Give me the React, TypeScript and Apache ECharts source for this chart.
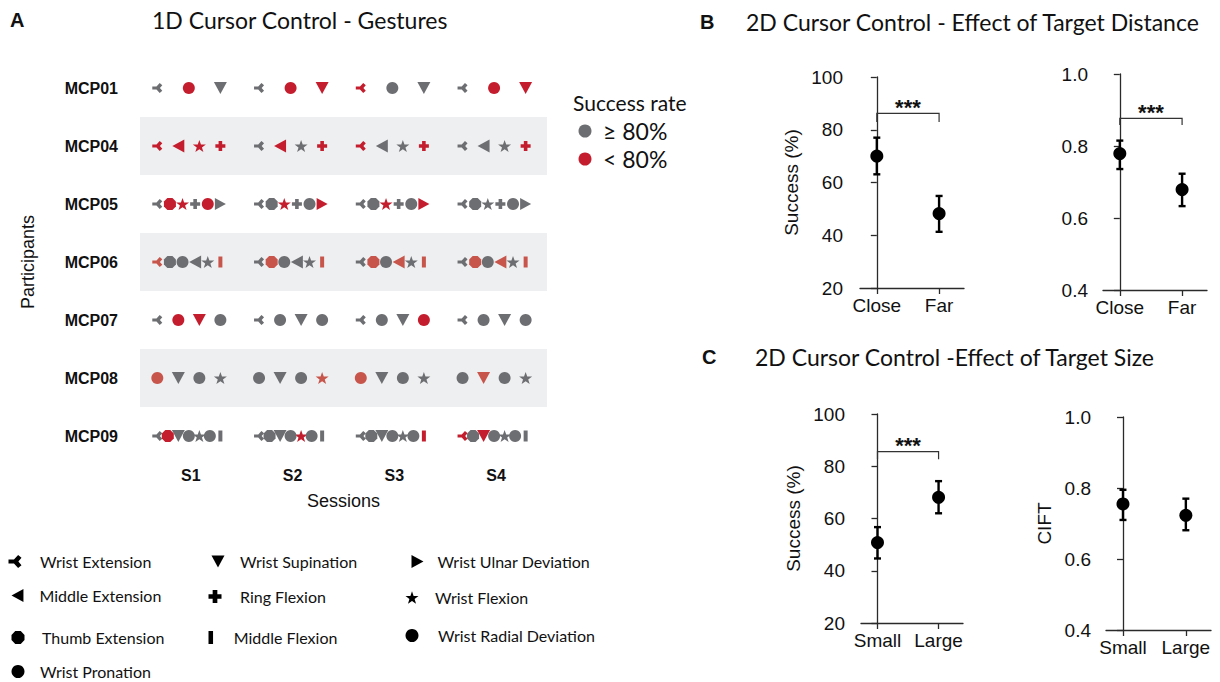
import React, { useEffect, useRef } from 'react';
import * as echarts from 'echarts';

// ---------------- DATA ----------------
const participants = ['MCP01', 'MCP04', 'MCP05', 'MCP06', 'MCP07', 'MCP08', 'MCP09'];
const sessions = ['S1', 'S2', 'S3', 'S4'];

const gestures = [
  'Wrist Extension', 'Wrist Supination', 'Wrist Ulnar Deviation',
  'Middle Extension', 'Ring Flexion', 'Wrist Flexion',
  'Thumb Extension', 'Middle Flexion', 'Wrist Radial Deviation',
  'Wrist Pronation',
];

const participantGestures = [
  ['Wrist Extension', 'Wrist Pronation', 'Wrist Supination'],
  ['Wrist Extension', 'Middle Extension', 'Wrist Flexion', 'Ring Flexion'],
  ['Wrist Extension', 'Thumb Extension', 'Wrist Flexion', 'Ring Flexion', 'Wrist Radial Deviation', 'Wrist Ulnar Deviation'],
  ['Wrist Extension', 'Thumb Extension', 'Wrist Pronation', 'Middle Extension', 'Wrist Flexion', 'Middle Flexion'],
  ['Wrist Extension', 'Wrist Pronation', 'Wrist Supination', 'Wrist Radial Deviation'],
  ['Wrist Pronation', 'Wrist Supination', 'Wrist Radial Deviation', 'Wrist Flexion'],
  ['Wrist Extension', 'Thumb Extension', 'Wrist Supination', 'Wrist Pronation', 'Wrist Flexion', 'Wrist Radial Deviation', 'Middle Flexion'],
];

// per participant, per session: one char per gesture. g = >= 80 %, r = < 80 %, p = < 80 % (paler print)
const successBySession = [
  ['grg', 'grr', 'rgg', 'grr'],
  ['rrrr', 'grgr', 'rggr', 'gggr'],
  ['grrgrg', 'ggrggr', 'ggrggr', 'gggggg'],
  ['pggggp', 'gpgggp', 'gpgpgp', 'gpgpgp'],
  ['grrg', 'gggg', 'gggr', 'gggg'],
  ['pggg', 'gggp', 'pggg', 'gpgg'],
  ['grggggg', 'ggggrgg', 'ggggggr', 'rgrgggg'],
];

const distanceCategories = ['Close', 'Far'];
const distanceSuccessMean = [70.0, 48.2];
const distanceSuccessLow = [63.1, 41.3];
const distanceSuccessHigh = [77.0, 54.9];
const distanceCiftMean = [0.779, 0.679];
const distanceCiftLow = [0.736, 0.633];
const distanceCiftHigh = [0.815, 0.723];

const sizeCategories = ['Small', 'Large'];
const sizeSuccessMean = [50.8, 68.1];
const sizeSuccessLow = [44.7, 62.0];
const sizeSuccessHigh = [56.7, 74.3];
const sizeCiftMean = [0.755, 0.723];
const sizeCiftLow = [0.71, 0.681];
const sizeCiftHigh = [0.795, 0.77];

// significance brackets: [bracket top, bracket foot]
const distanceSuccessBracket = [86.2, 82.9];
const distanceCiftBracket = [0.877, 0.858];
const sizeSuccessBracket = [85.6, 82.7];

// ---------------- STYLE ----------------
const GREY = '#6d6e71';
const RED = '#c41e2e';
const PALE = '#c8554b';
const statusColor: Record<string, string> = { g: GREY, r: RED, p: PALE };

function starPath() {
  let d = '';
  for (let k = 0; k < 10; k++) {
    const r = k % 2 === 0 ? 10 : 4;
    const a = -Math.PI / 2 + (k * Math.PI) / 5;
    d += (k === 0 ? 'M' : 'L') + (10 + r * Math.cos(a)).toFixed(2) + ',' + (10 + r * Math.sin(a)).toFixed(2) + ' ';
  }
  return 'path://' + d + 'Z';
}

const SYM: Record<string, any> = {
  'Wrist Extension': { symbol: 'path://M0,3.4 L4.2,3.4 L7.4,0 L10,2.2 L7.6,5 L10,7.8 L7.4,10 L4.2,6.6 L0,6.6 Z', size: [10, 10] },
  'Wrist Supination': { symbol: 'path://M0,0 L10,0 L5,9.2 Z', size: [13, 12] },
  'Wrist Ulnar Deviation': { symbol: 'path://M0,0 L9.2,5 L0,10 Z', size: [11, 12] },
  'Middle Extension': { symbol: 'path://M9.2,0 L0,5 L9.2,10 Z', size: [12, 13] },
  'Ring Flexion': { symbol: 'path://M3.2,0 H6.8 V3.2 H10 V6.8 H6.8 V10 H3.2 V6.8 H0 V3.2 H3.2 Z', size: [10, 10] },
  'Wrist Flexion': { symbol: starPath(), size: [13, 12] },
  'Thumb Extension': { symbol: 'path://M2.9,0 L7.1,0 L10,3 L10,7 L7.1,10 L2.9,10 L0,7 L0,3 Z', size: [12, 12] },
  'Middle Flexion': { symbol: 'path://M0,0 H3.5 V10 H0 Z', size: [4, 11] },
  'Wrist Radial Deviation': { symbol: 'circle', size: [12, 12] },
  'Wrist Pronation': { symbol: 'circle', size: [12, 12] },
};

// legend slot layout: [gesture, icon centre x, centre y, text start x]
const legendSlots: [string, number, number, number][] = [
  ['Wrist Extension', 15, 560, 40], ['Wrist Supination', 218, 560, 240], ['Wrist Ulnar Deviation', 418, 560, 438],
  ['Middle Extension', 18, 594, 40], ['Ring Flexion', 215, 595, 240], ['Wrist Flexion', 412, 596, 435],
  ['Thumb Extension', 18, 636, 42], ['Middle Flexion', 215, 636, 238], ['Wrist Radial Deviation', 412, 634, 438],
  ['Wrist Pronation', 18, 670, 40],
];

const SPAN = 0.62;
const SHIFT = -0.02;

const AXIS_COLOR = '#2a2a2a';
const SANS = 'Liberation Sans, Arial, sans-serif';
const HUM = 'Lato, "Open Sans", sans-serif';

function buildOption() {
  // ---------- Panel A ----------
  const gestureSeries = gestures.map((g) => {
    const data: any[] = [];
    participantGestures.forEach((set, p) => {
      const i = set.indexOf(g);
      if (i < 0) return;
      const n = set.length;
      sessions.forEach((_, s) => {
        const st = successBySession[p][s][i];
        const x = s + 0.5 + (i / (n - 1) - 0.5) * SPAN + SHIFT;
        data.push({ value: [x, p], itemStyle: { color: statusColor[st], opacity: 1 } });
      });
    });
    const sym = SYM[g];
    return {
      type: 'scatter',
      name: g,
      xAxisIndex: 1,
      yAxisIndex: 0,
      symbol: sym.symbol,
      symbolSize: sym.size,
      itemStyle: { color: '#000', opacity: 1 },
      emphasis: { disabled: true },
      data,
      z: 3,
    };
  });

  const legends = legendSlots.map(([name, cx, cy, tx]) => {
    const iw = 13;
    const left = cx - iw / 2;
    return {
      data: [name],
      left,
      top: cy - iw / 2,
      padding: 0,
      itemWidth: iw,
      itemHeight: iw,
      itemGap: 0,
      selectedMode: false,
      itemStyle: { color: '#000', opacity: 1 },
      textStyle: {
        fontFamily: HUM,
        fontSize: 16,
        color: '#111',
        padding: [0, 0, 0, Math.max(0, tx - (left + iw + 5))],
      },
    };
  });

  // ---------- Panels B / C ----------
  const panels = [
    { cats: distanceCategories, mean: distanceSuccessMean, low: distanceSuccessLow, high: distanceSuccessHigh, bracket: distanceSuccessBracket, min: 20, max: 100, interval: 20, dec: 0, name: 'Success (%)', grid: { left: 860, top: 77, width: 104, height: 211 }, offset: 7 },
    { cats: distanceCategories, mean: distanceCiftMean, low: distanceCiftLow, high: distanceCiftHigh, bracket: distanceCiftBracket, min: 0.4, max: 1.0, interval: 0.2, dec: 1, name: '', grid: { left: 1103, top: 74, width: 104, height: 216 }, offset: 5 },
    { cats: sizeCategories, mean: sizeSuccessMean, low: sizeSuccessLow, high: sizeSuccessHigh, bracket: sizeSuccessBracket, min: 20, max: 100, interval: 20, dec: 0, name: 'Success (%)', grid: { left: 861, top: 414, width: 102, height: 209 }, offset: 6 },
    { cats: sizeCategories, mean: sizeCiftMean, low: sizeCiftLow, high: sizeCiftHigh, bracket: null, min: 0.4, max: 1.0, interval: 0.2, dec: 1, name: 'CIFT', grid: { left: 1106, top: 417, width: 105, height: 213 }, offset: 5 },
  ];

  const grids: any[] = [{ left: 140, top: 59, width: 407, height: 406 }];
  const xAxes: any[] = [
    {
      type: 'category', gridIndex: 0, data: sessions,
      axisLine: { show: false }, axisTick: { show: false },
      axisLabel: { fontFamily: SANS, fontWeight: 'bold', fontSize: 16, color: '#111', margin: 2 },
      name: 'Sessions', nameLocation: 'middle', nameGap: 27,
      nameTextStyle: { fontFamily: SANS, fontSize: 18, color: '#111' },
    },
    { type: 'value', gridIndex: 0, min: 0, max: 4, show: false },
  ];
  const yAxes: any[] = [
    {
      type: 'category', gridIndex: 0, data: participants, inverse: true,
      axisLine: { show: false }, axisTick: { show: false },
      axisLabel: { fontFamily: SANS, fontWeight: 'bold', fontSize: 16, color: '#111', margin: 22 },
      splitLine: { show: false },
      splitArea: { show: true, areaStyle: { color: ['rgba(255,255,255,0)', '#eeeff1'] } },
      name: 'Participants', nameLocation: 'middle', nameGap: 103, nameRotate: 90,
      nameTextStyle: { fontFamily: SANS, fontSize: 18, color: '#111' },
    },
  ];
  const series: any[] = [...gestureSeries];

  panels.forEach((pn, k) => {
    const gi = k + 1;
    const xi = xAxes.length;
    const yi = yAxes.length;
    grids.push(pn.grid);
    xAxes.push({
      type: 'value', gridIndex: gi, min: -0.27, max: 1.4,
      axisLine: { show: true, lineStyle: { color: AXIS_COLOR, width: 1.3 } },
      axisTick: { show: true, customValues: [0, 1], length: 6, lineStyle: { color: AXIS_COLOR, width: 1.3 } },
      axisLabel: { customValues: [0, 1], formatter: (v: number) => pn.cats[Math.round(v)] ?? '', fontFamily: SANS, fontSize: 19, color: '#111', margin: 8 },
      splitLine: { show: false },
    });
    yAxes.push({
      type: 'value', gridIndex: gi, min: pn.min, max: pn.max, interval: pn.interval, offset: pn.offset,
      axisLine: { show: true, lineStyle: { color: AXIS_COLOR, width: 1.3 } },
      axisTick: { show: true, length: 6, lineStyle: { color: AXIS_COLOR, width: 1.3 } },
      axisLabel: { formatter: (v: number) => v.toFixed(pn.dec), fontFamily: SANS, fontSize: 19, color: '#111', margin: 10 },
      splitLine: { show: false },
      name: pn.name, nameLocation: 'middle', nameGap: pn.name === 'CIFT' ? 47 : 52, nameRotate: 90,
      nameTextStyle: { fontFamily: SANS, fontSize: 19, color: '#111' },
    });
    series.push({
      type: 'custom', xAxisIndex: xi, yAxisIndex: yi,
      data: pn.cats.map((_, i) => [i, pn.low[i], pn.high[i]]),
      renderItem: (params: any, api: any) => {
        const x = api.value(0);
        const lo = api.coord([x, api.value(1)]);
        const hi = api.coord([x, api.value(2)]);
        const c = 3.5;
        const st = { stroke: '#000', lineWidth: 2.4 };
        return {
          type: 'group',
          children: [
            { type: 'line', shape: { x1: lo[0], y1: lo[1], x2: hi[0], y2: hi[1] }, style: st },
            { type: 'line', shape: { x1: lo[0] - c, y1: lo[1], x2: lo[0] + c, y2: lo[1] }, style: st },
            { type: 'line', shape: { x1: hi[0] - c, y1: hi[1], x2: hi[0] + c, y2: hi[1] }, style: st },
          ],
        };
      },
      z: 2,
    });
    series.push({
      type: 'scatter', xAxisIndex: xi, yAxisIndex: yi,
      data: pn.cats.map((_, i) => [i, pn.mean[i]]),
      symbol: 'circle', symbolSize: 13,
      itemStyle: { color: '#000', opacity: 1 },
      emphasis: { disabled: true },
      z: 3,
    });
    if (pn.bracket) {
      series.push({
        type: 'custom', xAxisIndex: xi, yAxisIndex: yi,
        data: [[0, 1, pn.bracket[0], pn.bracket[1]]],
        renderItem: (params: any, api: any) => {
          const a = api.coord([api.value(0), api.value(3)]);
          const b = api.coord([api.value(0), api.value(2)]);
          const c2 = api.coord([api.value(1), api.value(2)]);
          const d = api.coord([api.value(1), api.value(3)]);
          return {
            type: 'group',
            children: [
              { type: 'polyline', shape: { points: [a, b, c2, d] }, style: { stroke: '#333', lineWidth: 1.2, fill: 'none' } },
              { type: 'text', x: (b[0] + c2[0]) / 2, y: b[1] - 6, style: { text: '***', fontFamily: SANS, fontWeight: 'bold', fontSize: 22, fill: '#111', align: 'center', verticalAlign: 'middle' } },
            ],
          };
        },
        z: 2,
      });
    }
  });

  const graphic: any[] = [
    { type: 'text', left: 10, top: 10, style: { text: 'A', fontFamily: SANS, fontWeight: 'bold', fontSize: 20, fill: '#111' } },
    { type: 'text', x: 152, y: 20, style: { text: '1D Cursor Control - Gestures', fontFamily: HUM, fontSize: 23, fill: '#111', verticalAlign: 'middle' } },
    { type: 'text', left: 700, top: 12, style: { text: 'B', fontFamily: SANS, fontWeight: 'bold', fontSize: 20, fill: '#111' } },
    { type: 'text', x: 746, y: 22, style: { text: '2D Cursor Control - Effect of Target Distance', fontFamily: HUM, fontSize: 23, fill: '#111', verticalAlign: 'middle' } },
    { type: 'text', left: 702, top: 347, style: { text: 'C', fontFamily: SANS, fontWeight: 'bold', fontSize: 20, fill: '#111' } },
    { type: 'text', x: 755, y: 357, style: { text: '2D Cursor Control -Effect of Target Size', fontFamily: HUM, fontSize: 23, fill: '#111', verticalAlign: 'middle' } },
    { type: 'text', x: 573, y: 102, style: { text: 'Success rate', fontFamily: HUM, fontSize: 21, fill: '#111', verticalAlign: 'middle' } },
    { type: 'circle', shape: { cx: 585, cy: 131, r: 6.5 }, style: { fill: GREY } },
    { type: 'text', x: 603, y: 131, style: { text: '≥ 80%', fontFamily: HUM, fontSize: 23, fill: '#111', verticalAlign: 'middle' } },
    { type: 'circle', shape: { cx: 585, cy: 159, r: 6.5 }, style: { fill: RED } },
    { type: 'text', x: 603, y: 159, style: { text: '< 80%', fontFamily: HUM, fontSize: 23, fill: '#111', verticalAlign: 'middle' } },
  ];

  return {
    animation: false,
    backgroundColor: '#fff',
    grid: grids,
    xAxis: xAxes,
    yAxis: yAxes,
    legend: legends,
    graphic,
    series,
  };
}

export default function App() {
  const ref = useRef<HTMLDivElement>(null);
  useEffect(() => {
    if (!ref.current) return;
    const chart = echarts.init(ref.current, null, { renderer: 'svg' });
    chart.setOption(buildOption() as any);
    return () => chart.dispose();
  }, []);
  return <div ref={ref} style={{ position: 'absolute', left: 0, top: 0, width: 1220, height: 682, background: '#fff' }} />;
}
